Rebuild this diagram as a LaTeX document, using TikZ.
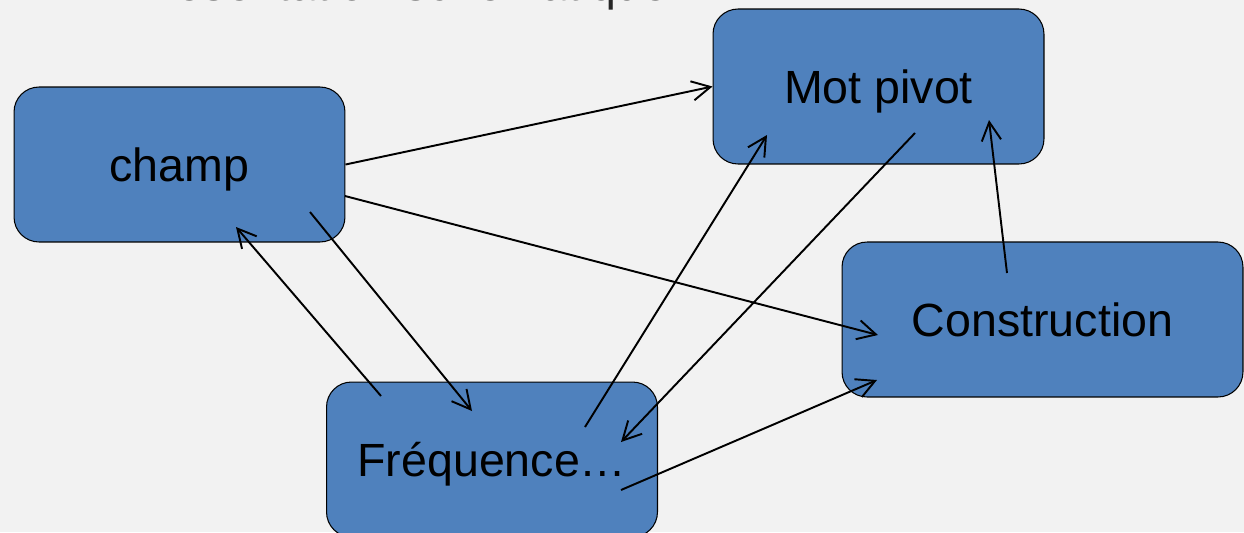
\documentclass[tikz,border=0pt]{standalone}
\usepackage{fontspec}
\setmainfont{Liberation Sans}
\usetikzlibrary{arrows.meta,calc}
\definecolor{boxblue}{HTML}{4F81BD}
\definecolor{slidebg}{HTML}{F2F2F2}

\begin{document}
\begin{tikzpicture}
[x=0.02cm, y=-0.02cm,
termnode/.style={rectangle, rounded corners=0.5cm, draw=black, line width=0.6pt, fill=boxblue, minimum width=6.62cm, minimum height=3.1cm, inner sep=0pt, text depth=0pt, font=\fontsize{26.5}{30}\selectfont},
connect/.style={-{Straight Barb[length=10.5pt,width=11pt]}, line width=1.1pt}]
\useasboundingbox (0,0) rectangle (1244,532);
\fill[slidebg] (0,0) rectangle (1244,532);
\clip (0,0) rectangle (1244,532);
\node[anchor=base west, inner sep=0pt, text=black!85, font=\fontsize{26.5}{30}\selectfont] (title) at (130,0.2) {Présentation schématique :};
\node[termnode]	(champ) at (179.5, 164.5) {champ};
\node[termnode]	(pivot) at (878.5, 86.5) {Mot pivot};
\node[termnode, minimum width=8.02cm]	(construction) at (1042.5, 319.5) {Construction};
\node[termnode]	(frequence) at (492, 459.5) {Fréquence…};
\draw[connect] (champ.east) -- (pivot.west);
\draw[connect] ($(champ.center)+(165.5,31.5)$) -- ($(construction.center)+(-164.5,15.5)$);
\draw[connect] ($(champ.center)+(130.5,47.5)$) -- ($(frequence.center)+(-20,-48.5)$);
\draw[connect] ($(frequence.center)+(-111,-63.5)$) -- ($(champ.center)+(56.5,62.5)$);
\draw[connect] ($(frequence.center)+(93,-32.5)$) -- ($(pivot.center)+(-111.5,48.5)$);
\draw[connect] ($(pivot.center)+(36.5,46.5)$) -- ($(frequence.center)+(129,-17.5)$);
\draw[connect] ($(frequence.center)+(129,30.5)$) -- ($(construction.center)+(-165.5,60.5)$);
\draw[connect] ($(construction.center)+(-35.5,-46.5)$) -- ($(pivot.center)+(110.5,33.5)$);
\end{tikzpicture}
\end{document}
